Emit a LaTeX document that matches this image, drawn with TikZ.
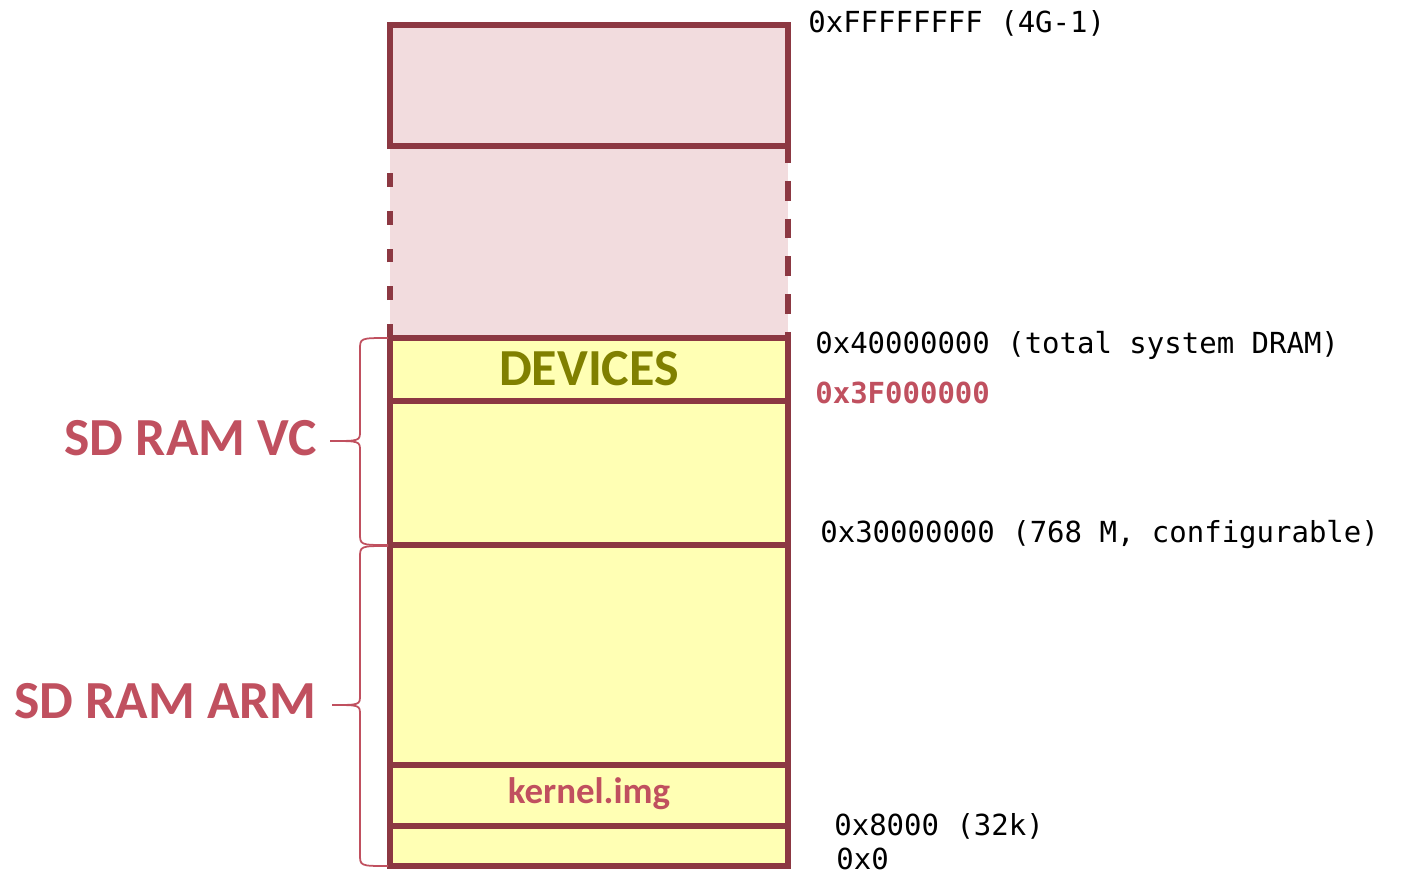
\documentclass[tikz,border=0pt]{standalone}
\usepackage{fontspec}
\setmainfont{Carlito}
\setmonofont{DejaVu Sans Mono}
\definecolor{memline}{RGB}{140, 56, 66}
\definecolor{highfill}{RGB}{242, 220, 222}
\definecolor{ramfill}{RGB}{255, 255, 180}
\definecolor{devolive}{RGB}{128, 128, 0}
\definecolor{labelred}{RGB}{192, 80, 95}

\tikzset{
  wall/.style={memline, line width=3.3pt},
  addr/.style={anchor=base west, inner sep=0pt, font=\fontsize{16.5}{20}\selectfont\ttfamily},
  ramlabel/.style={anchor=base east, inner sep=0pt, text=labelred, font=\fontsize{30.5}{36}\selectfont\bfseries},
  ramspan/.style={labelred, line width=1pt}
}

\begin{document}
\begin{tikzpicture}[x=0.02cm, y=-0.02cm]
  \useasboundingbox (0,0) rectangle (1405,876);

  % Address space above DRAM
  \fill[highfill] (390,25) rectangle (788,338);
  \draw[wall] (390,25) rectangle (788,146);
  \draw[wall, dash pattern=on 7.9pt off 13.6pt] (390,338) -- (390,146);
  \draw[wall, dash pattern=on 11.3pt off 10.2pt, dash phase=1.7pt] (788,146) -- (788,338);

  % DRAM, split between VC and ARM
  \fill[ramfill] (390,338) rectangle (788,866);
  \draw[wall] (390,338) rectangle (788,866);
  \draw[wall] (390,401) -- (788,401);
  \draw[wall] (390,545) -- (788,545);
  \draw[wall] (390,765) -- (788,765);
  \draw[wall] (390,826) -- (788,826);

  % Region names
  \node[anchor=base, inner sep=0pt, text=devolive, font=\fontsize{29.6}{34}\selectfont\bfseries] (devices) at (589,385) {DEVICES};
  \node[anchor=base, inner sep=0pt, text=labelred, font=\fontsize{21}{25}\selectfont\bfseries] (kernel) at (589,803) {kernel.img};

  % Addresses
  \node[addr] (top) at (808,32) {0xFFFFFFFF (4G-1)};
  \node[addr] (dram) at (815,353) {0x40000000 (total system DRAM)};
  \node[addr, text=labelred, font=\fontsize{16.5}{20}\selectfont\ttfamily\bfseries] (periph) at (815,403) {0x3F000000};
  \node[addr] (split) at (820,542) {0x30000000 (768 M, configurable)};
  \node[addr] (load) at (834,835) {0x8000 (32k)};
  \node[addr] (zero) at (836,869) {0x0};

  % Braces for the two SDRAM parts
  \coordinate (vctop) at (388,338);
  \coordinate (vcbot) at (388,545);
  \coordinate (vctip) at (330,441);
  \coordinate (armtop) at (388,546);
  \coordinate (armbot) at (388,866);
  \coordinate (armtip) at (332,705);
  \draw[ramspan] (vctop) .. controls (360,338) .. (360,350) -- (360,431)
    .. controls (360,441) .. (vctip) .. controls (360,441) .. (360,451)
    -- (360,533) .. controls (360,545) .. (vcbot);
  \draw[ramspan] (armtop) .. controls (360,546) .. (360,558) -- (360,695)
    .. controls (360,705) .. (armtip) .. controls (360,705) .. (360,715)
    -- (360,854) .. controls (360,866) .. (armbot);

  \node[ramlabel] (vc) at (317,455) {SD RAM VC};
  \node[ramlabel] (arm) at (317,718) {SD RAM ARM};
\end{tikzpicture}
\end{document}
